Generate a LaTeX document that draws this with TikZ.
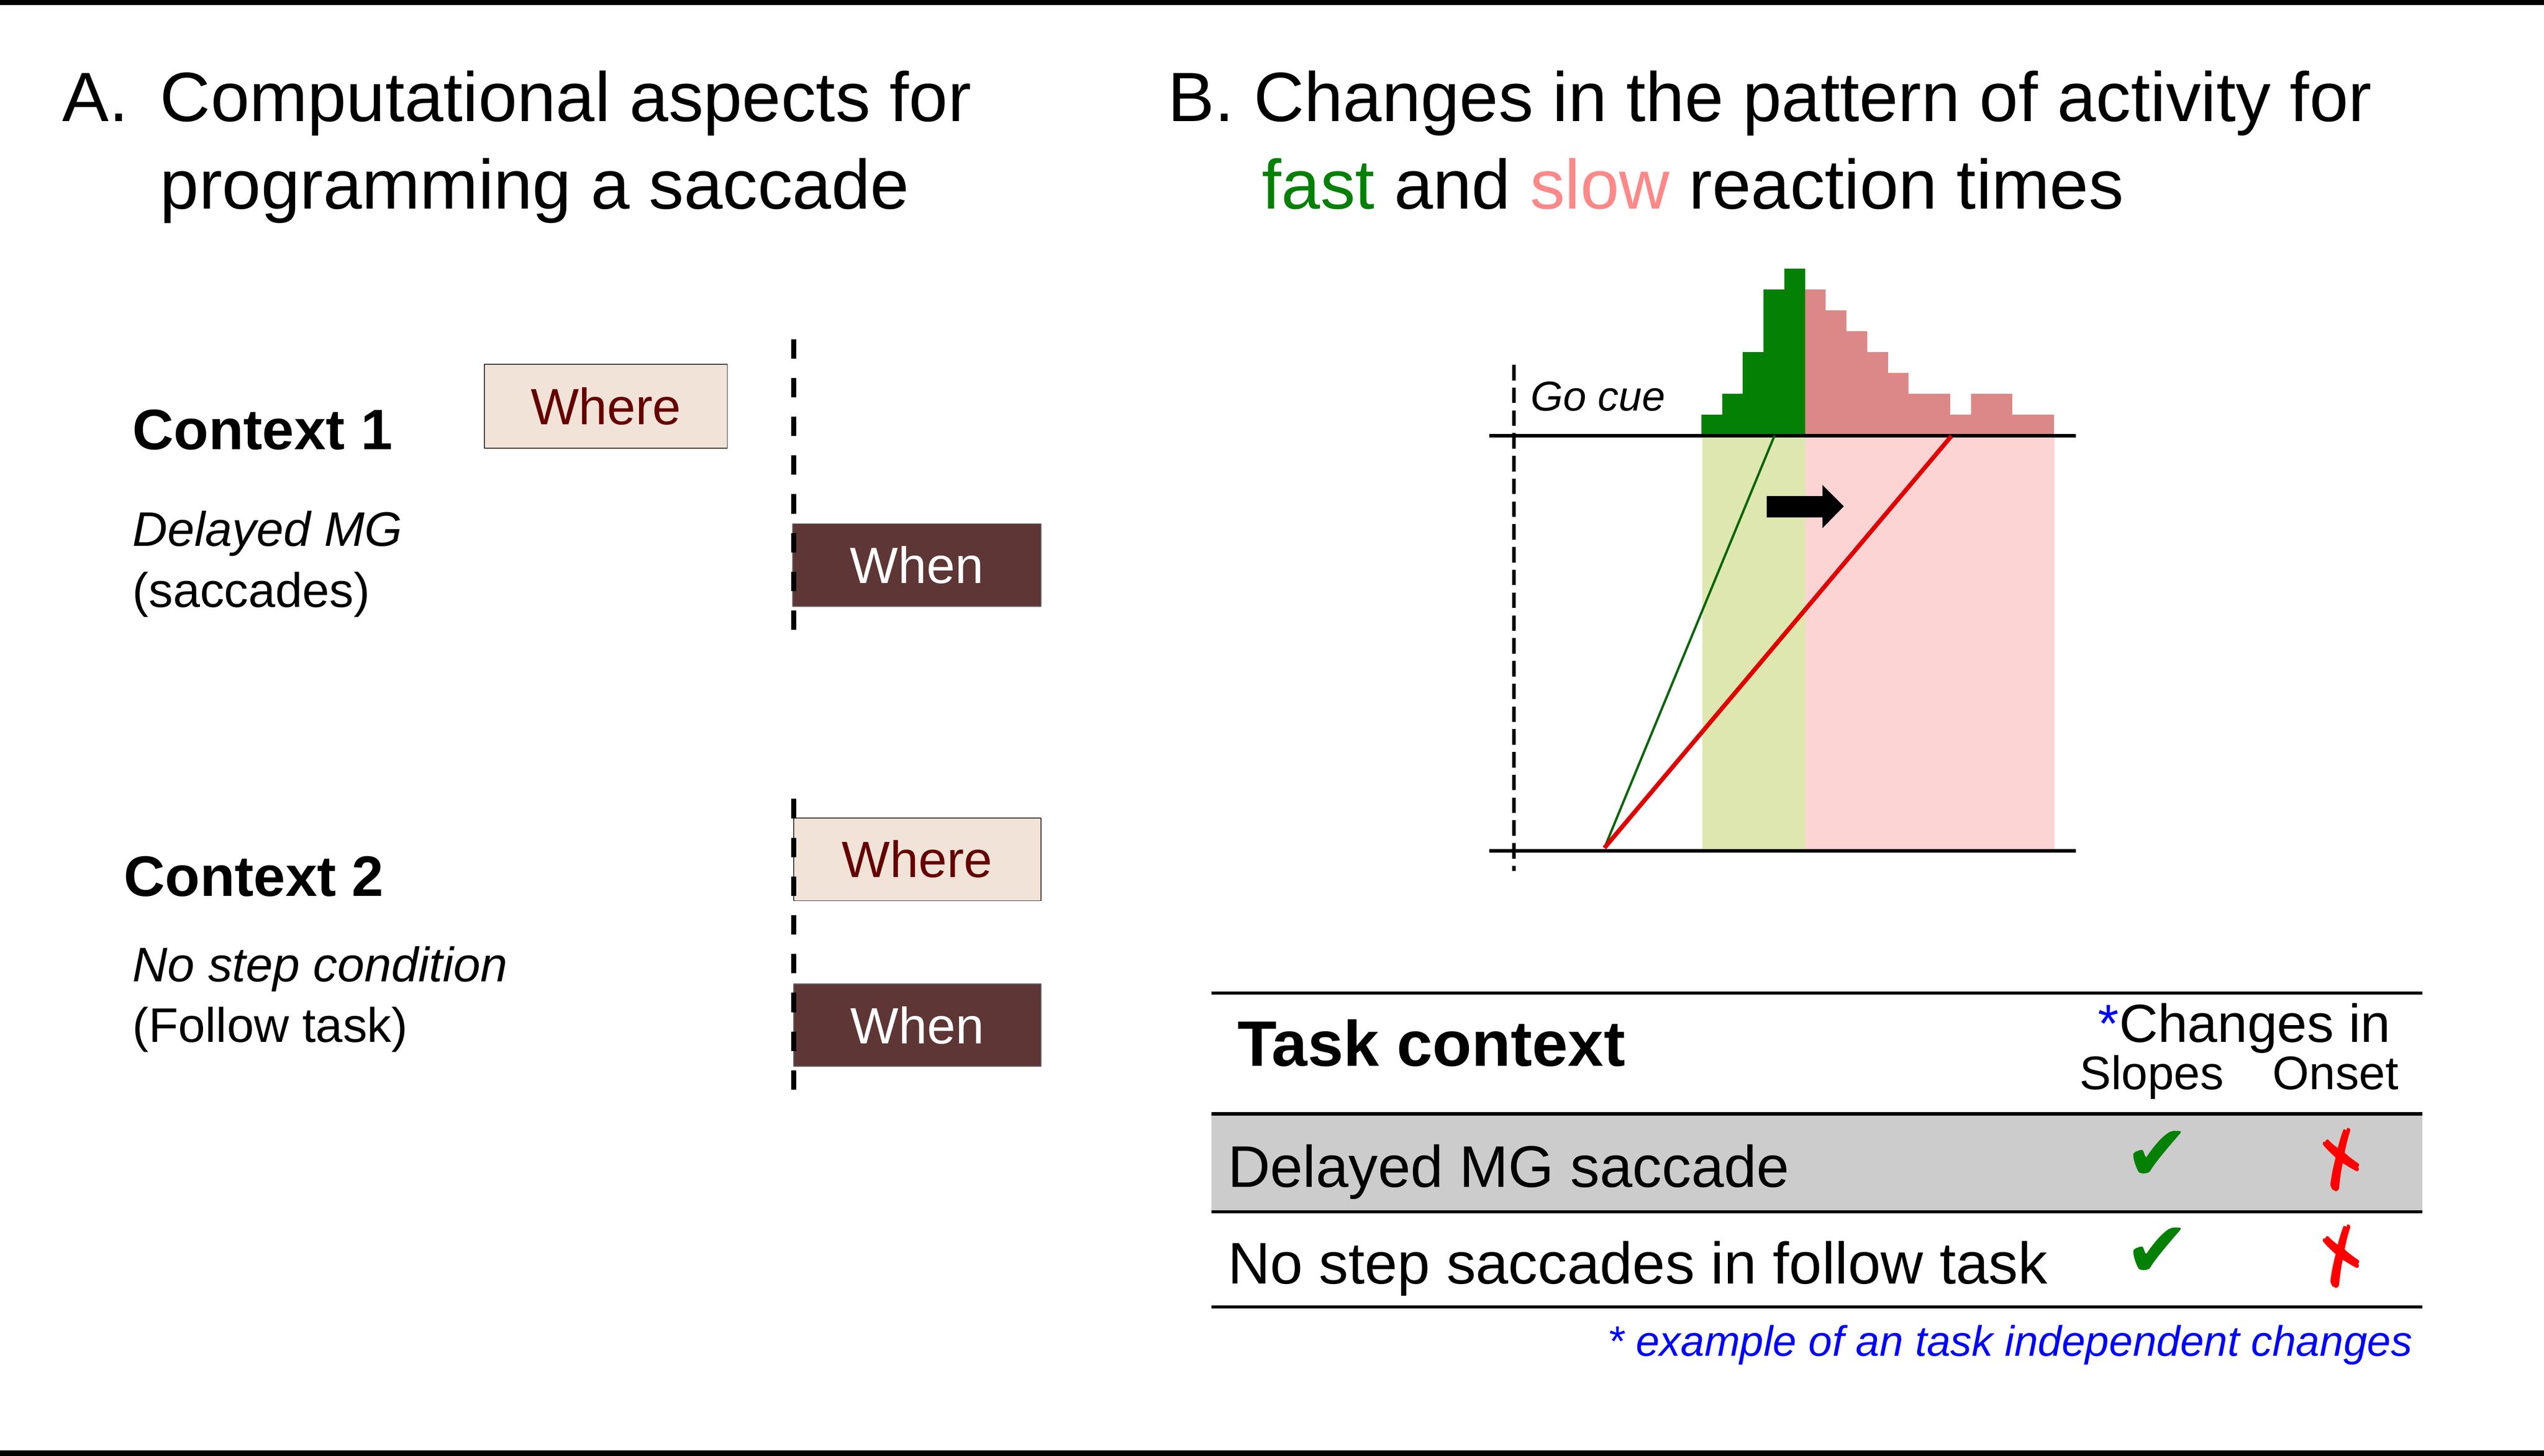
\documentclass[tikz,border=0pt]{standalone}
\usepackage{fontspec}
\setmainfont{Liberation Sans}
\newfontfamily\symfont{DejaVu Sans}

\definecolor{wherefill}{RGB}{242,227,216}
\definecolor{wheretext}{RGB}{102,0,0}
\definecolor{whenfill}{RGB}{94,54,54}
\definecolor{fastgreen}{RGB}{4,128,4}
\definecolor{slowpink}{RGB}{220,136,136}
\definecolor{fastband}{RGB}{222,231,176}
\definecolor{slowband}{RGB}{253,212,212}
\definecolor{fastline}{RGB}{10,100,10}
\definecolor{slowline}{RGB}{224,0,0}
\definecolor{titlepink}{RGB}{255,136,136}
\definecolor{rowgray}{RGB}{204,204,204}

\begin{document}
\begin{tikzpicture}[x=1cm, y=-1cm, line join=round,
	title/.style={anchor=base west, inner sep=0pt, font=\fontsize{41}{49}\selectfont},
	ctxhead/.style={anchor=base west, inner sep=0pt, font=\fontsize{33.5}{40}\selectfont\bfseries},
	ctxtext/.style={anchor=base west, inner sep=0pt, font=\fontsize{28.5}{34}\selectfont},
	ctxital/.style={ctxtext, font=\fontsize{28.5}{34}\selectfont\itshape},
	wherebox/.style={rectangle, fill=wherefill, draw=black!80, line width=0.02cm, minimum width=5.1cm, minimum height=1.71cm, inner sep=0pt, text=wheretext, font=\fontsize{30}{36}\selectfont},
	whenbox/.style={wherebox, fill=whenfill, draw=black!60, text=white},
	cuedash/.style={line width=0.1cm, dash pattern=on 0.4cm off 0.4cm},
	axis/.style={line width=0.07cm},
	rule/.style={line width=0.065cm},
	rowtext/.style={anchor=base west, inner sep=0pt, font=\fontsize{34.5}{41}\selectfont},
	colhead/.style={inner sep=0pt, font=\fontsize{31.5}{38}\selectfont},
	subhead/.style={anchor=base west, inner sep=0pt, font=\fontsize{27.7}{33}\selectfont},
	okmark/.style={inner sep=0pt, text=fastgreen, font=\symfont\fontsize{46}{54}\selectfont},
	nomark/.style={inner sep=0pt, text=red, rotate=25, font=\symfont\fontsize{42}{50}\selectfont}]
	\useasboundingbox (0,0) rectangle (52.5,30.05);
	\fill (0,0) rectangle (52.5,0.11);
	\fill (0,29.93) rectangle (52.5,30.05);
	
	% A: where / when
	\node[title] (lblA) at (1.28,2.50) {A.};
	\node[title] (titA1) at (3.30,2.50) {Computational aspects for};
	\node[title] (titA2) at (3.30,4.31) {programming a saccade};
	
	\node[ctxhead] (ctx1) at (2.73,9.28) {Context 1};
	\node[ctxital] (task1) at (2.73,11.27) {Delayed MG};
	\node[ctxtext] (cond1) at (2.73,12.53) {(saccades)};
	\node[ctxhead] (ctx2) at (2.55,18.50) {Context 2};
	\node[ctxital] (task2) at (2.73,20.26) {No step condition};
	\node[ctxtext] (cond2) at (2.73,21.51) {(Follow task)};
	
	\node[wherebox, minimum width=5.01cm, minimum height=1.73cm] (where1) at (12.505,8.385) {Where};
	\node[whenbox, minimum width=5.12cm] (when1) at (18.92,11.665) {When};
	\node[wherebox] (where2) at (18.93,17.735) {Where};
	\node[whenbox, minimum height=1.70cm] (when2) at (18.93,21.16) {When};
	\draw[cuedash] (16.38,7.00) -- (16.38,13.01);
	\draw[cuedash] (16.38,16.49) -- (16.38,22.50);
	
	% B: rise to threshold
	\node[title] (lblB) at (24.10,2.50) {B.};
	\node[title] (titB1) at (25.87,2.50) {Changes in the pattern of activity for};
	\node[title] (titB2) at (26.04,4.31) {\textcolor{fastgreen}{fast} and \textcolor{titlepink}{slow} reaction times};
	
	\def\bw{0.428} \def\bh{0.431}
	\fill[fastband] (35.13,8.99) rectangle (37.25,17.56);
	\fill[slowband] (37.25,8.99) rectangle (42.40,17.56);
	\foreach \h [count=\i from 0] in {1,2,4,7,8}
		\fill[fastgreen] ({35.11+\i*\bw},8.99) rectangle ++(\bw,{-\h*\bh});
	\foreach \h [count=\i from 0] in {7,6,5,4,3,2,2,1,2,2,1,1}
		\fill[slowpink] ({37.25+\i*\bw},8.99) rectangle ++(\bw,{-\h*\bh});
	\draw[axis] (30.73,8.99) -- (42.84,8.99);
	\draw[axis] (30.73,17.56) -- (42.84,17.56);
	\draw[line width=0.07cm, dash pattern=on 0.32cm off 0.15cm] (31.24,7.53) -- (31.24,17.98);
	\node[anchor=base west, inner sep=0pt, font=\fontsize{24.5}{29}\selectfont\itshape] (gocue) at (31.58,8.48) {Go cue};
	
	\coordinate (start) at (33.11,17.50);
	\coordinate (fastcross) at (36.62,8.99);
	\coordinate (slowcross) at (40.27,9.00);
	\draw[fastline, line width=0.048cm] (start) -- (fastcross);
	\draw[slowline, line width=0.09cm] (start) -- (slowcross);
	\fill (36.46,10.24) -- (37.61,10.24) -- (37.61,10.01) -- (38.05,10.45) -- (37.61,10.90) -- (37.61,10.68) -- (36.46,10.68) -- cycle;
	
	% table
	\fill[rowgray] (25.00,22.99) rectangle (49.99,25.01);
	\draw[rule] (25.00,20.50) -- (49.99,20.50);
	\draw[rule] (25.00,22.99) -- (49.99,22.99);
	\draw[rule] (25.00,25.01) -- (49.99,25.01);
	\draw[rule] (25.00,26.97) -- (49.99,26.97);
	\node[anchor=base west, inner sep=0pt, font=\fontsize{37.7}{45}\selectfont\bfseries] (taskhead) at (25.53,22.00) {Task context};
	\node[colhead, anchor=base east] (chghead) at (49.34,21.51) {\textcolor{blue}{*}Changes in};
	\node[subhead] (slopes) at (42.91,22.49) {Slopes};
	\node[subhead] (onset) at (46.89,22.49) {Onset};
	\node[rowtext] (row1) at (25.33,24.50) {Delayed MG saccade};
	\node[rowtext] (row2) at (25.33,26.50) {No step saccades in follow task};
	\node[okmark] (ok1) at (44.52,23.85) {✔};
	\node[okmark] (ok2) at (44.52,25.85) {✔};
	\node[nomark] (no1) at (48.33,23.93) {✗};
	\node[nomark] (no2) at (48.33,25.93) {✗};
	\node[anchor=base east, inner sep=0pt, text=blue, font=\fontsize{25}{30}\selectfont\itshape] (note) at (49.79,27.99) {* example of an task independent changes};
\end{tikzpicture}
\end{document}
